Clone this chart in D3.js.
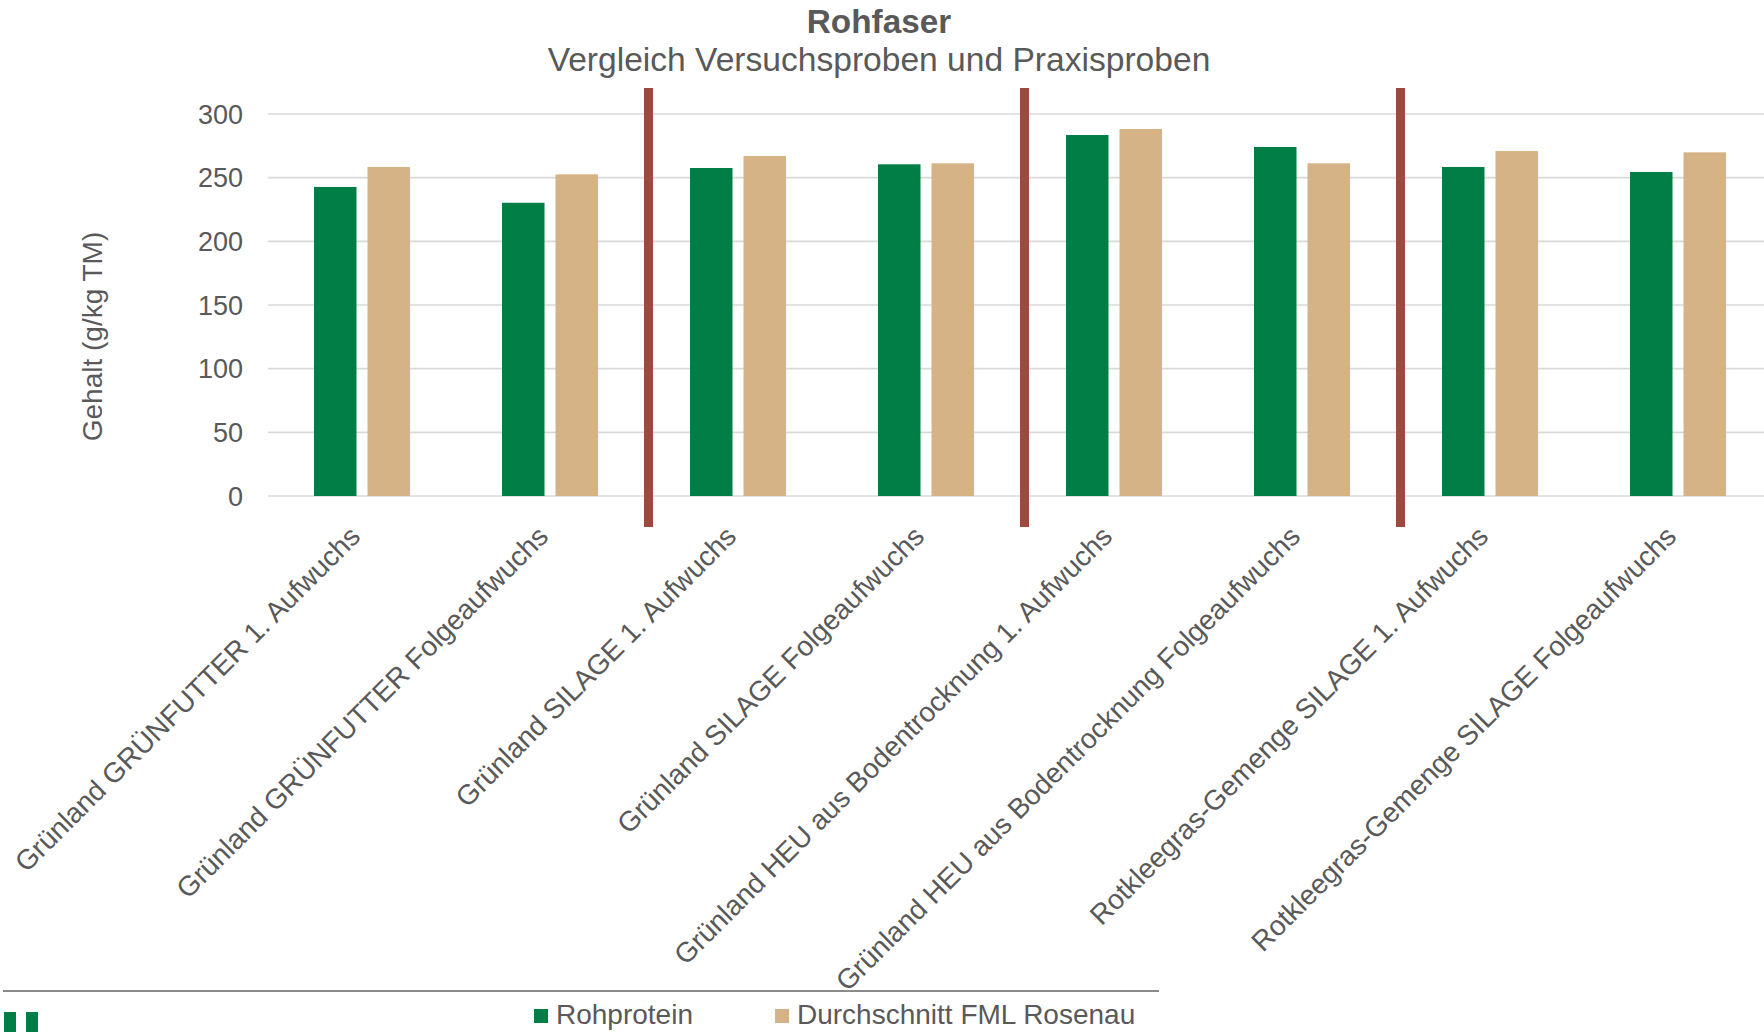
<!DOCTYPE html>
<html>
<head>
<meta charset="utf-8">
<script src="https://cdn.jsdelivr.net/npm/d3@7"></script>
<style>
  html, body { margin: 0; padding: 0; background: #fff; }
  svg { display: block; }
  text { font-family: "Liberation Sans", Arial, sans-serif; fill: #595959; }
</style>
</head>
<body>
<svg id="chart" width="1764" height="1032"></svg>
<script>
const categories = [
  "Grünland GRÜNFUTTER 1. Aufwuchs",
  "Grünland GRÜNFUTTER Folgeaufwuchs",
  "Grünland SILAGE 1. Aufwuchs",
  "Grünland SILAGE Folgeaufwuchs",
  "Grünland HEU aus Bodentrocknung 1. Aufwuchs",
  "Grünland HEU aus Bodentrocknung Folgeaufwuchs",
  "Rotkleegras-Gemenge SILAGE 1. Aufwuchs",
  "Rotkleegras-Gemenge SILAGE Folgeaufwuchs"
];
const seriesNames = ["Rohprotein", "Durchschnitt FML Rosenau"];
const rohprotein = [242.7, 230.3, 257.6, 260.5, 283.5, 274.1, 258.4, 254.5];
const durchschnitt = [258.4, 252.6, 267.0, 261.3, 288.2, 261.3, 270.9, 269.9];
const yTicks = [0, 50, 100, 150, 200, 250, 300];
const separatorsBefore = [2, 4, 6];
const seriesColors = ["#007E45", "#D6B386"];

const svg = d3.select("#chart");

const x = d3.scaleBand().domain(categories).range([268, 1772]).padding(0);
const xInner = d3.scaleBand().domain(seriesNames).range([0, x.bandwidth()])
  .paddingInner(0.2056).paddingOuter(0.86);
const y = d3.scaleLinear().domain([0, 300]).range([496, 114]);

// gridlines
svg.append("g").selectAll("line").data(yTicks).join("line")
  .attr("x1", 268).attr("x2", 1764)
  .attr("y1", d => y(d)).attr("y2", d => y(d))
  .attr("stroke", "#D9D9D9").attr("stroke-width", 1.6);

// y tick labels
svg.append("g").selectAll("text").data(yTicks).join("text")
  .attr("x", 243).attr("y", d => y(d)).attr("dy", "0.36em")
  .attr("text-anchor", "end").attr("font-size", 27)
  .text(d => d);

// bars
const table = categories.map((c, i) => ({cat: c, values: [rohprotein[i], durchschnitt[i]]}));
const groups = svg.append("g").selectAll("g").data(table).join("g")
  .attr("transform", d => `translate(${x(d.cat)},0)`);
groups.selectAll("rect").data(d => d.values.map((v, j) => ({name: seriesNames[j], v, j})))
  .join("rect")
  .attr("x", d => xInner(d.name))
  .attr("width", xInner.bandwidth())
  .attr("y", d => y(d.v))
  .attr("height", d => y(0) - y(d.v))
  .attr("fill", d => seriesColors[d.j]);

// separator lines
svg.append("g").selectAll("rect").data(separatorsBefore).join("rect")
  .attr("x", d => x(categories[d]))
  .attr("width", 9)
  .attr("y", 88).attr("height", 439)
  .attr("fill", "#984B3E");

// x labels
svg.append("g").selectAll("text").data(categories).join("text")
  .attr("transform", d => `translate(${x(d) + x.bandwidth() / 2},538) rotate(-45)`)
  .attr("text-anchor", "end").attr("font-size", 28)
  .text(d => d);

// axis title
svg.append("text")
  .attr("transform", "translate(102,336.5) rotate(-90)")
  .attr("text-anchor", "middle").attr("font-size", 28)
  .text("Gehalt (g/kg TM)");

// titles
svg.append("text").attr("x", 879).attr("y", 32.5).attr("text-anchor", "middle")
  .attr("font-size", 33.3).attr("font-weight", "bold").text("Rohfaser");
svg.append("text").attr("x", 879).attr("y", 71).attr("text-anchor", "middle")
  .attr("font-size", 33.6).text("Vergleich Versuchsproben und Praxisproben");

// footer line
svg.append("line").attr("x1", 3).attr("x2", 1159).attr("y1", 991).attr("y2", 991)
  .attr("stroke", "#8A8A8A").attr("stroke-width", 2);

// legend
const legendX = [534, 775];
const leg = svg.append("g").selectAll("g").data(seriesNames).join("g")
  .attr("transform", (d, i) => `translate(${legendX[i]},0)`);
leg.append("rect").attr("x", 0).attr("y", 1009).attr("width", 14).attr("height", 14)
  .attr("fill", (d, i) => seriesColors[i]);
leg.append("text").attr("x", 22).attr("y", 1024).attr("font-size", 28).text(d => d);

// logo fragment
svg.append("g").selectAll("rect").data([4, 26]).join("rect")
  .attr("x", d => d).attr("y", 1012).attr("width", 12).attr("height", 20)
  .attr("fill", "#007E45");
</script>
</body>
</html>
